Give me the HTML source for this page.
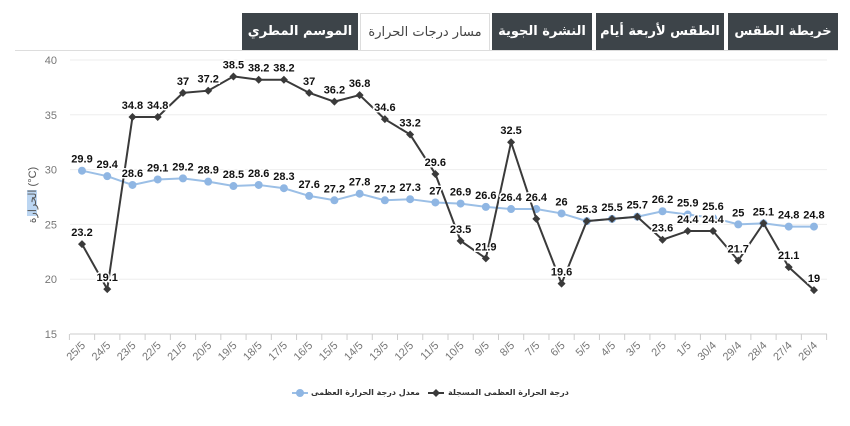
<!DOCTYPE html>
<html><head><meta charset="utf-8"><style>
body{margin:0;background:#fff;width:850px;height:426px;overflow:hidden;font-family:"Liberation Sans","Noto Sans CJK SC",sans-serif}
.tab{position:absolute;top:13px;height:37px;background:#3d4449;color:#fff;font-size:13px;font-weight:bold;display:flex;align-items:center;justify-content:center;font-family:"DejaVu Sans",sans-serif}
.act{background:#fff;color:#444;font-weight:normal;border:1px solid #ddd;border-bottom:none;box-sizing:border-box}
.lg{position:absolute;top:388px;font-size:8px;font-weight:bold;color:#333;font-family:"DejaVu Sans",sans-serif;white-space:nowrap;direction:rtl}
</style></head><body>
<div class="tab" style="left:242px;width:116px">الموسم المطري</div>
<div class="tab act" style="left:360px;width:130px">مسار درجات الحرارة</div>
<div class="tab" style="left:492px;width:100px">النشرة الجوية</div>
<div class="tab" style="left:596px;width:128px">الطقس لأربعة أيام</div>
<div class="tab" style="left:728px;width:110px">خريطة الطقس</div>
<svg id="s" width="850" height="426" style="position:absolute;left:0;top:0" font-family="Liberation Sans, DejaVu Sans, sans-serif"></svg>
<div class="lg" style="left:311px">معدل درجة الحرارة العظمى</div>
<div class="lg" style="left:448px">درجة الحرارة العظمى المسجلة</div>
<script>
var s=document.getElementById('s'),h='';
h+='<line x1="15" y1="50.5" x2="838" y2="50.5" stroke="#ddd"/>';
function Y(v){return 334-(v-15)*10.96}
for(var v=15;v<=40;v+=5){var y=Y(v);h+='<line x1="70" x2="827" y1="'+y+'" y2="'+y+'" stroke="'+(v==15?'#ccc':'#eee')+'"/><text x="57" y="'+(y+4)+'" font-size="11" fill="#777" text-anchor="end">'+v+'</text>';}
var d=['25/5','24/5','23/5','22/5','21/5','20/5','19/5','18/5','17/5','16/5','15/5','14/5','13/5','12/5','11/5','10/5','9/5','8/5','7/5','6/5','5/5','4/5','3/5','2/5','1/5','30/4','29/4','28/4','27/4','26/4'];
var a=[29.9,29.4,28.6,29.1,29.2,28.9,28.5,28.6,28.3,27.6,27.2,27.8,27.2,27.3,27,26.9,26.6,26.4,26.4,26,25.3,25.5,25.7,26.2,25.9,25.6,25,25.1,24.8,24.8];
var r=[23.2,19.1,34.8,34.8,37,37.2,38.5,38.2,38.2,37,36.2,36.8,34.6,33.2,29.6,23.5,21.9,32.5,25.5,19.6,25.3,25.5,25.7,23.6,24.4,24.4,21.7,25.1,21.1,19];
var st=25.24,x0=82;function X(i){return x0+i*st}
for(var i=0;i<=30;i++){var x=69.4+i*st;h+='<line x1="'+x+'" x2="'+x+'" y1="334" y2="340" stroke="#ccc"/>';}
d.forEach(function(t,i){var x=X(i)+4;h+='<text transform="translate('+x+',346) rotate(-45)" font-size="11" fill="#777" text-anchor="end">'+t+'</text>';});
var p='';a.forEach(function(v,i){p+=X(i)+','+Y(v)+' '});
h+='<polyline points="'+p+'" fill="none" stroke="#9bbfe6" stroke-width="2"/>';
a.forEach(function(v,i){h+='<circle cx="'+X(i)+'" cy="'+Y(v)+'" r="4" fill="#8fb6e3"/>'});
p='';r.forEach(function(v,i){p+=X(i)+','+Y(v)+' '});
h+='<polyline points="'+p+'" fill="none" stroke="#3a3a3a" stroke-width="2"/>';
r.forEach(function(v,i){var x=X(i),y=Y(v);h+='<path d="M'+x+' '+(y-4)+'L'+(x+4)+' '+y+'L'+x+' '+(y+4)+'L'+(x-4)+' '+y+'Z" fill="#3a3a3a"/>'});
function lab(x,y,t){h+='<text x="'+x+'" y="'+y+'" font-size="11" font-weight="bold" fill="#111" text-anchor="middle" stroke="#fff" stroke-width="3" paint-order="stroke">'+t+'</text>'}
a.forEach(function(v,i){lab(X(i),Y(v)-8,v)});
r.forEach(function(v,i){if(i==18||i==20||i==21||i==22)return;lab(X(i),Y(v)-8,v)});
h+='<rect x="27" y="190" width="10" height="26" fill="#bcd6f2"/>';
h+='<text transform="translate(36,195) rotate(-90)" font-size="11" fill="#555" text-anchor="middle" direction="ltr">الحرارة (°C)</text>';
h+='<line x1="292" x2="308" y1="393" y2="393" stroke="#9bbfe6" stroke-width="2"/><circle cx="300" cy="393" r="4" fill="#8fb6e3"/>';
h+='<line x1="428" x2="444" y1="393" y2="393" stroke="#3a3a3a" stroke-width="2"/><path d="M436 389L440 393L436 397L432 393Z" fill="#3a3a3a"/>';
s.innerHTML=h;
</script>
</body></html>
